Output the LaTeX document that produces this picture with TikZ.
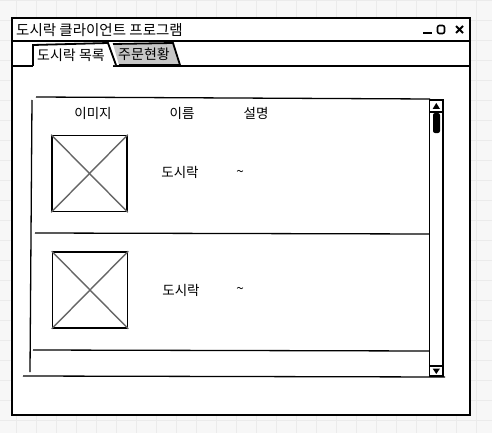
\documentclass[tikz,border=0pt]{standalone}
\usepackage{fontspec}
\setmainfont{Noto Sans CJK KR}
\begin{document}
\begin{tikzpicture}[x=1pt,y=-1pt,
    wire/.style={line width=1.8pt},
    listline/.style={line width=1.3pt},
    lbl/.style={font=\fontsize{13.5}{15}\selectfont, inner sep=0pt},
    tablbl/.style={font=\fontsize{14}{16}\selectfont, inner sep=0pt},
    imgbox/.style={draw, line width=1.6pt, minimum width=75pt, minimum height=76pt, inner sep=0pt},
    cross/.style={draw=black!60, line width=1.4pt}]
        \useasboundingbox (0,0) rectangle (492,433);
        % Background grid
        \fill[black!3] (0,0) rectangle (492,433);
        \foreach \gx in {16,36,...,476} \draw[black!8, line width=0.8pt] (\gx,0) -- (\gx,433);
        \foreach \gy in {0,20,...,420} \draw[black!8, line width=0.8pt] (0,\gy) -- (492,\gy);

        % Window
        \draw[wire, fill=white] (12,18) rectangle (470,415);
        \draw[wire] (12,41) -- (470,41);
        \draw[wire] (12,66) -- (33,66);
        \draw[wire] (113,66) -- (470,66);
        \node[tablbl, anchor=west, font=\fontsize{14.5}{16}\selectfont] (title) at (16,30) {도시락 클라이언트 프로그램};
        \draw[line width=2.6pt] (423,33) -- (432,33);
        \draw[line width=1.6pt, rounded corners=2pt] (437.5,25.5) rectangle (444.5,33.5);
        \draw[line width=2pt] (456,26) -- (463,33) (463,26) -- (456,33);

        % Tabs
        \draw[wire, fill=black!22] (113,44) -- (173,43) -- (180,65) -- (119,65);
        \draw[wire, fill=white] (33,66) -- (33,45) -- (108,43) -- (116,65);
        \node[tablbl] (tab1) at (71,55) {도시락 목록};
        \node[tablbl] (tab2) at (144,54) {주문현황};

        % List
        \draw[listline] (36,97) -- (430,99);
        \draw[listline] (32,100) -- (30,372);
        \draw[listline] (23,376) -- (445,377);
        \draw[listline] (35,233) -- (430,234);
        \draw[listline] (33,350) -- (430,351);
        \node[lbl] (colimg) at (93,113) {이미지};
        \node[lbl] (colname) at (182,113) {이름};
        \node[lbl] (coldesc) at (256,113) {설명};

        % Rows
        \node[imgbox] (img1) at (89.5,173.5) {};
        \draw[cross] (img1.north west) -- (img1.south east) (img1.north east) -- (img1.south west);
        \node[lbl] (name1) at (180,172) {도시락};
        \node[lbl] (desc1) at (240,173) {\textasciitilde};
        \node[imgbox] (img2) at (90,290) {};
        \draw[cross] (img2.north west) -- (img2.south east) (img2.north east) -- (img2.south west);
        \node[lbl] (name2) at (181,290) {도시락};
        \node[lbl] (desc2) at (240,290) {\textasciitilde};

        % Scrollbar
        \draw[listline, fill=white] (429.5,100) rectangle (443,376);
        \draw[listline] (429.5,112) -- (443,112);
        \fill (436.3,103) -- (440,109) -- (432.6,109) -- cycle;
        \fill[rounded corners=2pt] (433,113) rectangle (440,133);
        \draw[listline] (429.5,366) -- (443,366);
        \fill (436.3,374) -- (440,368.5) -- (432.6,368.5) -- cycle;
    \end{tikzpicture}
\end{document}
